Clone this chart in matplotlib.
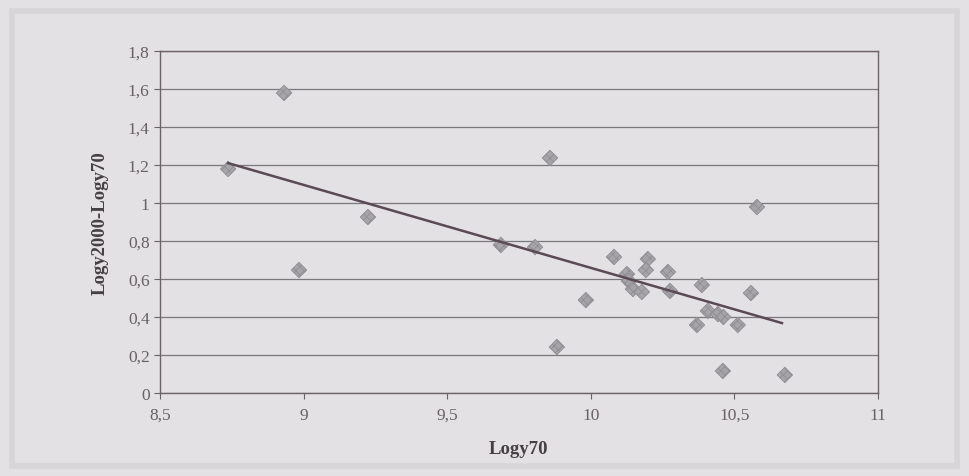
import matplotlib.pyplot as plt
from matplotlib.ticker import FuncFormatter
from matplotlib.patches import Rectangle

# scatter values
logy70 = [8.737, 8.932, 8.984, 9.224, 9.687, 9.806, 9.858, 9.882, 9.983,
          10.081, 10.126, 10.133, 10.147, 10.178, 10.199, 10.192, 10.269, 10.276,
          10.387, 10.408, 10.443, 10.462, 10.370, 10.512, 10.558, 10.579,
          10.460, 10.676]
growth = [1.179, 1.579, 0.647, 0.926, 0.779, 0.768, 1.237, 0.242, 0.489,
          0.716, 0.626, 0.589, 0.547, 0.532, 0.705, 0.647, 0.637, 0.537,
          0.568, 0.432, 0.415, 0.400, 0.358, 0.358, 0.526, 0.979,
          0.116, 0.095]

# linear trend line end points
trend_x = [8.737, 10.666]
trend_y = [1.21, 0.368]

xticks = [8.5, 9, 9.5, 10, 10.5, 11]
yticks = [0, 0.2, 0.4, 0.6, 0.8, 1, 1.2, 1.4, 1.6, 1.8]

plt.rcParams['font.family'] = ['Liberation Serif', 'DejaVu Serif']
plt.rcParams['hatch.color'] = '#727072'
plt.rcParams['hatch.linewidth'] = 0.6

bg = '#e3e1e3'
fig = plt.figure(figsize=(9.7, 4.77), dpi=100, facecolor=bg)
fig.patches.append(Rectangle((0.012, 0.022), 0.975, 0.953, transform=fig.transFigure,
                             fill=False, edgecolor='#d7d5d7', linewidth=4))

ax = fig.add_axes([0.165, 0.174, 0.740, 0.717])
ax.set_facecolor(bg)

ax.scatter(logy70, growth, marker='D', s=62, facecolor='#a6a4a8', edgecolor='#908e92',
           linewidth=0.6, hatch='xxxx', zorder=3)
ax.plot(trend_x, trend_y, color='#5a4a56', linewidth=1.8, zorder=4)

ax.set_xlim(8.5, 11)
ax.set_ylim(0, 1.8)
ax.set_xticks(xticks)
ax.set_yticks(yticks)
fmt = FuncFormatter(lambda v, p: ('%g' % v).replace('.', ','))
ax.xaxis.set_major_formatter(fmt)
ax.yaxis.set_major_formatter(fmt)
ax.grid(axis='y', color='#7a787a', linewidth=0.9)
ax.set_axisbelow(True)
for s in ax.spines.values():
    s.set_color('#6a6266')
    s.set_linewidth(1.0)
ax.tick_params(axis='both', labelsize=12.5, colors='#666266', length=4, width=0.8)
ax.tick_params(axis='x', pad=6)

ax.set_xlabel('Logy70', fontsize=13.5, fontweight='bold', color='#444044', labelpad=12)
ax.set_ylabel('Logy2000-Logy70', fontsize=13.5, fontweight='bold', color='#444044', labelpad=14)

fig.savefig('out.png', dpi=100, facecolor=bg)
